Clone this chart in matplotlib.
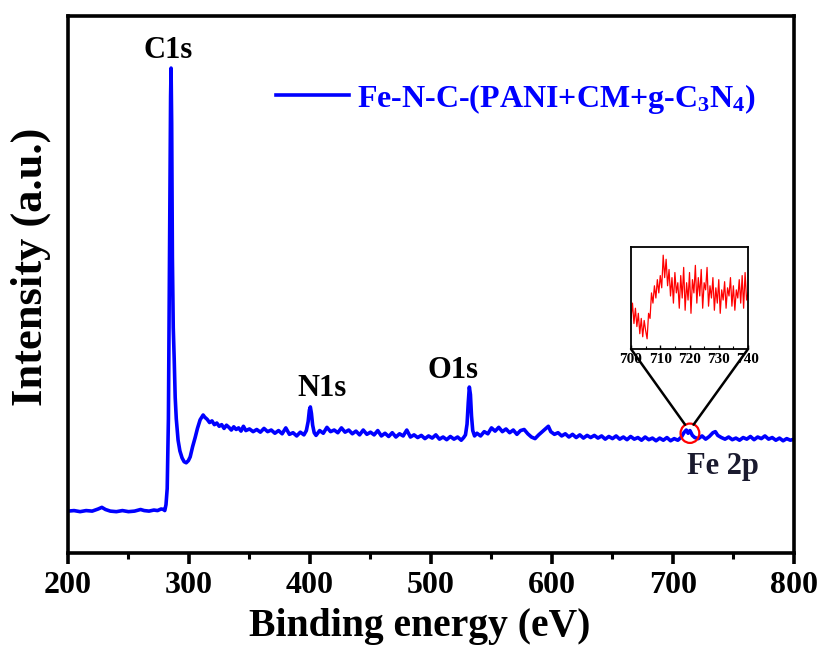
#!/usr/bin/env python3
#
# xps survey spectrum of Fe-N-C-(PANI+CM+g-C3N4), with Fe 2p inset
#

import matplotlib
matplotlib.use('Agg')
import matplotlib.pyplot as plt
from matplotlib.patches import Ellipse, ConnectionPatch
from matplotlib.ticker import MultipleLocator

# survey spectrum: binding energy (eV) and intensity (a.u.)
be_ev = [200, 205, 210, 215, 220, 225, 228, 231, 235, 240, 245, 250, 255, 260, 263, 267, 271, 274, 277, 279,
         280.0, 281.0, 282.0, 283.0, 284.0, 284.8, 285.2, 285.7, 286.3, 287.0, 287.8, 288.6, 289.5, 291.0,
         292.5, 294.3, 296.0, 297.7, 299.5, 301.0, 303.0, 305.1, 307.0, 309.2, 311.7, 313,
         315, 317, 319, 321, 323, 325, 327, 329, 331, 333, 335, 337, 339, 341, 343, 345, 347, 350, 353, 356,
         359, 362, 365, 368, 371, 374, 377, 380, 383, 386, 389, 392, 395,
         397, 398.5, 399.5, 400.3, 401.2, 402.2, 403.5,
         405, 408, 411, 414, 417, 420, 423, 426, 429, 432, 435, 438, 441, 444, 447, 450, 453, 456, 459, 462,
         465, 468, 471, 474, 477, 480, 483, 486, 489, 492, 495, 498, 501, 504, 507, 510, 513, 516, 519, 522,
         525, 527,
         528.5, 529.8, 530.8, 531.7, 532.6, 533.5, 534.5, 536,
         538, 541, 544, 547, 550, 553, 556, 559, 562, 565, 568, 571, 574, 577, 580, 583, 586, 589, 592, 595,
         597, 599, 602, 605, 608, 611, 614, 617, 620, 623, 626, 629, 632, 635, 638, 641, 644, 647, 650, 653,
         656, 659, 662, 665, 668, 671, 674, 677, 680, 683, 686, 689, 692, 695, 698, 701, 704, 707, 709, 711,
         712.5, 714, 716, 718, 721, 724, 727, 730, 733, 735, 737, 740, 743, 746, 749, 752, 755, 758, 761, 764,
         767, 770, 773, 776, 779, 782, 785, 788, 791, 794, 797, 800]
intensity = [7.8, 7.9, 7.7, 7.9, 7.8, 8.2, 8.5, 8.1, 7.8, 7.7, 7.9, 7.7, 7.8, 8.1, 7.9, 7.8, 8.0, 7.9, 8.2, 8.1,
             7.9, 9.0, 12.0, 25.0, 60.0, 85.0, 90.3, 80.0, 55.0, 42.0, 36.0, 29.0, 25.0, 21.0,
             19.0, 17.7, 17.0, 16.8, 17.2, 17.9, 19.8, 21.5, 23.2, 24.8, 25.7, 25.3,
             24.9, 24.3, 24.6, 23.9, 24.2, 23.6, 23.9, 23.2, 23.8, 23.4, 22.9, 23.5, 23.0, 23.3, 22.7, 23.6,
             22.8, 23.1, 22.6, 23.0, 22.5, 23.2, 22.6, 22.9, 22.3, 22.8, 22.2, 23.3, 22.1, 22.4, 21.8, 22.5, 22.0,
             22.8, 24.5, 26.6, 27.2, 26.0, 23.8, 22.4,
             21.9, 22.8, 22.3, 23.4, 22.6, 22.9, 22.4, 23.3, 22.5, 22.9, 22.2, 22.7, 22.0, 22.9, 22.1, 22.5,
             22.0, 22.8, 21.8, 22.3, 21.7, 22.4, 21.6, 22.2, 21.8, 22.9, 21.6, 22.0, 21.5, 21.9, 21.3, 21.8,
             21.4, 22.0, 21.2, 21.6, 21.1, 21.7, 21.2, 21.6, 21.0, 21.5,
             22.0, 24.0, 28.0, 30.9, 29.5, 25.5, 22.8, 21.8,
             22.3, 21.8, 22.6, 22.2, 23.3, 22.7, 23.4, 22.6, 23.1, 22.4, 22.9, 22.1, 22.8, 23.0, 22.2, 21.6,
             21.3, 22.0, 22.6, 23.2, 23.6, 22.6, 22.1, 22.4, 21.8, 22.2, 21.6, 22.1, 21.5, 22.0, 21.4, 21.9,
             21.5, 21.9, 21.4, 21.8, 21.2, 21.7, 21.3, 21.8, 21.2, 21.6, 21.1, 21.7, 21.2, 21.5, 21.0, 21.6,
             21.1, 21.4, 20.9, 21.4, 21.0, 21.5, 20.9, 21.3, 21.0, 21.6, 22.4, 22.9,
             22.3, 22.8, 21.9, 21.5, 21.3, 21.8, 21.2, 21.7, 22.4, 22.6, 21.9, 21.5, 21.2, 21.6, 21.1, 21.4,
             21.0, 21.5, 21.2, 21.7, 21.1, 21.6, 21.3, 21.8, 21.2, 21.5, 21.0, 21.4, 20.9, 21.3, 21.0, 21.2]

# fe 2p region, high resolution
fe_ev = [700.0, 700.5, 701.0, 701.5, 702.0, 702.5, 703.0, 703.5, 704.0, 704.5,
         705.0, 705.5, 706.0, 706.5, 707.0, 707.5, 708.0, 708.5, 709.0, 709.5,
         710.0, 710.5, 711.0, 711.5, 712.0, 712.5, 713.0, 713.5, 714.0, 714.5,
         715.0, 715.5, 716.0, 716.5, 717.0, 717.5, 718.0, 718.5, 719.0, 719.5,
         720.0, 720.5, 721.0, 721.5, 722.0, 722.5, 723.0, 723.5, 724.0, 724.5,
         725.0, 725.5, 726.0, 726.5, 727.0, 727.5, 728.0, 728.5, 729.0, 729.5,
         730.0, 730.5, 731.0, 731.5, 732.0, 732.5, 733.0, 733.5, 734.0, 734.5,
         735.0, 735.5, 736.0, 736.5, 737.0, 737.5, 738.0, 738.5, 739.0, 739.5, 740.0]
fe_int = [30, 45, 25, 40, 22, 35, 15, 30, 12, 28,
          18, 10, 35, 30, 55, 45, 62, 50, 68, 55,
          72, 60, 92, 70, 88, 62, 78, 52, 70, 45,
          75, 55, 65, 40, 72, 50, 80, 38, 65, 48,
          75, 35, 68, 55, 82, 45, 70, 52, 78, 40,
          65, 58, 80, 42, 62, 50, 70, 38, 60, 45,
          68, 35, 58, 48, 66, 40, 60, 52, 70, 42,
          62, 38, 58, 50, 68, 45, 72, 40, 75, 48, 55]

# peak labels: text, energy, intensity
peak_names = ['C1s', 'N1s', 'O1s', 'Fe 2p']
peak_ev = [282.8, 410.0, 518.6, 741.0]
peak_y = [93.5, 30.6, 33.9, 16.2]
peak_colors = ['black', 'black', 'black', '#1a1a2e']

# zoomed spot on the survey
fe_spot = (714.0, 22.3)

serif = 'Liberation Serif'
plt.rcParams['font.family'] = serif
plt.rcParams['font.weight'] = 'bold'
plt.rcParams['mathtext.default'] = 'regular'

fig = plt.figure(figsize=(8.21, 6.48), dpi=100)
ax = fig.add_axes([0.0828, 0.1466, 0.8843, 0.8287])

ax.plot(be_ev, intensity, color='#0000ff', linewidth=2.6,
        label=r'Fe-N-C-(PANI+CM+g-C$_3$N$_4$)')

ax.set_xlim(200, 800)
ax.set_ylim(0, 100)
ax.xaxis.set_major_locator(MultipleLocator(100))
ax.xaxis.set_minor_locator(MultipleLocator(50))
ax.set_yticks([])
for s in ax.spines.values():
    s.set_linewidth(2.6)
ax.tick_params(axis='x', which='major', direction='out', length=8, width=2.6,
               labelsize=23, pad=5)
ax.tick_params(axis='x', which='minor', direction='out', length=4.5, width=2.2)
for lab in ax.get_xticklabels():
    lab.set_fontweight('bold')

ax.set_xlabel('Binding energy (eV)', fontsize=28.5, fontweight='bold')
ax.set_ylabel('Intensity (a.u.)', fontsize=32, fontweight='bold')
ax.xaxis.set_label_coords(0.484, -0.102)
ax.yaxis.set_label_coords(-0.024, 0.533)

for name, x, y, c in zip(peak_names, peak_ev, peak_y, peak_colors):
    ax.text(x, y, name, fontsize=22, fontweight='bold', color=c,
            ha='center', va='center')

leg = ax.legend(loc='upper left', bbox_to_anchor=(0.286, 0.878), frameon=False,
                handlelength=2.3, handletextpad=0.25, borderpad=0, borderaxespad=0,
                prop={'family': serif, 'weight': 'bold', 'size': 23})
for t in leg.get_texts():
    t.set_color('#0000ff')

# red ring around the fe 2p region
ring = Ellipse(fe_spot, width=15.5, height=3.6, fill=False, edgecolor='red', linewidth=1.6, zorder=5)
ax.add_patch(ring)

# inset with the fe 2p detail
axin = fig.add_axes([0.7686, 0.4614, 0.1425, 0.1574])
axin.plot(fe_ev, fe_int, color='#ff0000', linewidth=0.9)
axin.set_xlim(700, 740)
axin.set_ylim(0, 100)
axin.set_yticks([])
axin.xaxis.set_major_locator(MultipleLocator(10))
axin.xaxis.set_minor_locator(MultipleLocator(5))
axin.tick_params(axis='x', which='major', direction='in', length=3, width=1, labelsize=11, pad=3)
axin.tick_params(axis='x', which='minor', direction='in', length=2, width=0.8)
for s in axin.spines.values():
    s.set_linewidth(1.3)

# lines from the inset corners down to the ring
for frac, dx in [(0.0, -4.0), (1.0, 3.0)]:
    con = ConnectionPatch(xyA=(frac, 0.0), coordsA=axin.transAxes,
                          xyB=(fe_spot[0] + dx, fe_spot[1] + 1.6), coordsB=ax.transData,
                          color='black', linewidth=1.8)
    fig.add_artist(con)

fig.savefig('out.png', dpi=100)
